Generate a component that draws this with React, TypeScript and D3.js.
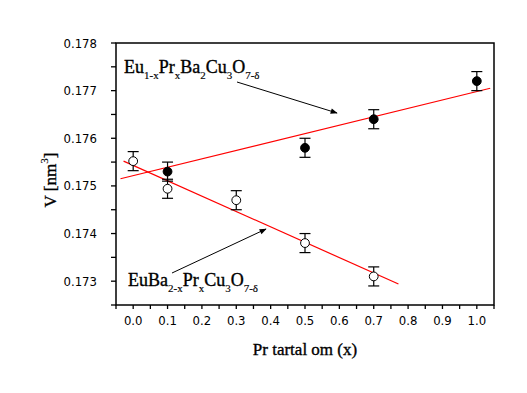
import React, { useEffect, useRef } from 'react';
import * as d3 from 'd3';

// Eu(1-x)Pr(x)Ba2Cu3O(7-d) series (filled)
const filledX = [0.1, 0.5, 0.7, 1.0];
const filledV = [0.1753, 0.1758, 0.1764, 0.1772];
// EuBa(2-x)Pr(x)Cu3O(7-d) series (open)
const openX = [0.0, 0.1, 0.3, 0.5, 0.7];
const openV = [0.17552, 0.17494, 0.1747, 0.1738, 0.1731];
const errV = 0.0002;

// fitted lines as drawn (end points)
const fitFilledX = [-0.037, 1.039];
const fitFilledV = [0.17515, 0.17705];
const fitOpenX = [-0.028, 0.772];
const fitOpenV = [0.17552, 0.17294];

const xTickLabels = ['0.0', '0.1', '0.2', '0.3', '0.4', '0.5', '0.6', '0.7', '0.8', '0.9', '1.0'];
const yTickLabels = ['0.173', '0.174', '0.175', '0.176', '0.177', '0.178'];

const labelTop = [
  { t: 'Eu' }, { t: '1-x', sub: true }, { t: 'Pr' }, { t: 'x', sub: true },
  { t: 'Ba' }, { t: '2', sub: true }, { t: 'Cu' }, { t: '3', sub: true },
  { t: 'O' }, { t: '7-δ', sub: true },
];
const labelBottom = [
  { t: 'EuBa' }, { t: '2-x', sub: true }, { t: 'Pr' }, { t: 'x', sub: true },
  { t: 'Cu' }, { t: '3', sub: true }, { t: 'O' }, { t: '7-δ', sub: true },
];

function Chart() {
  const svgRef = useRef<SVGSVGElement>(null);

  useEffect(() => {
    const svg = d3.select(svgRef.current);
    svg.selectAll('*').remove();

    const width = 527;
    const height = 393;
    const left = 116, right = 494, top = 43, bottom = 305;
    const serif = '"Liberation Serif", "Times New Roman", serif';
    const narrow = '"Liberation Sans Narrow", "DejaVu Sans Condensed", sans-serif';

    svg.attr('width', width).attr('height', height);
    svg.append('rect').attr('width', width).attr('height', height).attr('fill', '#fff');

    const x = d3.scaleLinear().domain([-0.05, 1.05]).range([left, right]);
    const y = d3.scaleLinear().domain([0.1725, 0.178]).range([bottom, top]);

    // ticks
    const xt = d3.range(0, 23).map(i => -0.05 + i * 0.05);
    svg.append('g').selectAll('line').data(xt).enter().append('line')
      .attr('x1', d => x(d)).attr('x2', d => x(d))
      .attr('y1', bottom).attr('y2', bottom + 4)
      .attr('stroke', '#000').attr('stroke-width', 1.3);
    svg.append('g').selectAll('text').data(xTickLabels).enter().append('text')
      .attr('x', d => x(+d)).attr('y', 325)
      .attr('text-anchor', 'middle')
      .style('font-family', narrow).style('font-size', '13px')
      .text(d => d);

    const yt = d3.range(0, 12).map(i => 0.1725 + i * 0.0005);
    svg.append('g').selectAll('line').data(yt).enter().append('line')
      .attr('x1', left - 5).attr('x2', left)
      .attr('y1', d => y(d)).attr('y2', d => y(d))
      .attr('stroke', '#000').attr('stroke-width', 1.3);
    svg.append('g').selectAll('text').data(yTickLabels).enter().append('text')
      .attr('x', 97).attr('y', d => y(+d) + 4.5)
      .attr('text-anchor', 'end')
      .style('font-family', narrow).style('font-size', '13px')
      .text(d => d);

    // frame
    svg.append('rect')
      .attr('x', left).attr('y', top)
      .attr('width', right - left).attr('height', bottom - top)
      .attr('fill', 'none').attr('stroke', '#000').attr('stroke-width', 1.5);

    // fit lines
    const line = d3.line<[number, number]>().x(d => x(d[0])).y(d => y(d[1]));
    svg.append('path').datum(fitFilledX.map((d, i) => [d, fitFilledV[i]] as [number, number]))
      .attr('d', line).attr('fill', 'none').attr('stroke', '#ff0000').attr('stroke-width', 1.2);
    svg.append('path').datum(fitOpenX.map((d, i) => [d, fitOpenV[i]] as [number, number]))
      .attr('d', line).attr('fill', 'none').attr('stroke', '#ff0000').attr('stroke-width', 1.2);

    // error bars + markers
    const drawSeries = (xs: number[], vs: number[], filled: boolean) => {
      const g = svg.append('g');
      const pts = xs.map((d, i) => ({ x: d, v: vs[i] }));
      const eb = g.selectAll('g.eb').data(pts).enter().append('g').attr('class', 'eb')
        .attr('stroke', '#000').attr('stroke-width', 1.2);
      eb.append('line').attr('x1', d => x(d.x)).attr('x2', d => x(d.x))
        .attr('y1', d => y(d.v - errV)).attr('y2', d => y(d.v + errV));
      eb.append('line').attr('x1', d => x(d.x) - 5.5).attr('x2', d => x(d.x) + 5.5)
        .attr('y1', d => y(d.v + errV)).attr('y2', d => y(d.v + errV));
      eb.append('line').attr('x1', d => x(d.x) - 5.5).attr('x2', d => x(d.x) + 5.5)
        .attr('y1', d => y(d.v - errV)).attr('y2', d => y(d.v - errV));
      g.selectAll('circle').data(pts).enter().append('circle')
        .attr('cx', d => x(d.x)).attr('cy', d => y(d.v)).attr('r', 4.4)
        .attr('fill', filled ? '#000' : '#fff')
        .attr('stroke', '#000').attr('stroke-width', 1);
    };
    drawSeries(filledX, filledV, true);
    drawSeries(openX, openV, false);

    // annotation labels
    const chemLabel = (segs: { t: string; sub?: boolean }[], tx: number, ty: number) => {
      const t = svg.append('text').attr('x', tx).attr('y', ty)
        .style('font-family', serif).style('font-size', '18px')
        .attr('stroke', '#000').attr('stroke-width', 0.35);
      let down = false;
      segs.forEach(s => {
        const sp = t.append('tspan').text(s.t);
        if (s.sub) {
          sp.style('font-size', '11px').attr('stroke-width', 0.15);
          if (!down) sp.attr('dy', 6);
          down = true;
        } else if (down) {
          sp.attr('dy', -6);
          down = false;
        }
      });
    };
    chemLabel(labelTop, 124, 73);
    chemLabel(labelBottom, 128, 286);

    // arrows
    const defs = svg.append('defs');
    defs.append('marker').attr('id', 'ah')
      .attr('viewBox', '0 0 10 10').attr('refX', 9).attr('refY', 5)
      .attr('markerWidth', 9).attr('markerHeight', 7).attr('orient', 'auto')
      .attr('markerUnits', 'userSpaceOnUse')
      .append('path').attr('d', 'M0,1L10,5L0,9Z').attr('fill', '#000');
    svg.append('line').attr('x1', 237).attr('y1', 82).attr('x2', 337).attr('y2', 113)
      .attr('stroke', '#000').attr('stroke-width', 1).attr('marker-end', 'url(#ah)');
    svg.append('line').attr('x1', 172).attr('y1', 273).attr('x2', 266).attr('y2', 229)
      .attr('stroke', '#000').attr('stroke-width', 1).attr('marker-end', 'url(#ah)');

    // axis titles
    svg.append('text').attr('x', 305).attr('y', 355).attr('text-anchor', 'middle')
      .style('font-family', serif).style('font-size', '17px')
      .attr('stroke', '#000').attr('stroke-width', 0.35)
      .text('Pr tartal om (x)');
    const yl = svg.append('text')
      .attr('transform', 'translate(56,180) rotate(-90)')
      .attr('text-anchor', 'middle')
      .style('font-family', serif).style('font-size', '17px')
      .attr('stroke', '#000').attr('stroke-width', 0.35);
    yl.append('tspan').text('V [nm');
    yl.append('tspan').text('3').style('font-size', '11px').attr('stroke-width', 0.15).attr('dy', -8);
    yl.append('tspan').text(']').attr('dy', 8);
  }, []);

  return <svg ref={svgRef} style={{ position: 'absolute', left: 0, top: 0 }}></svg>;
}

export default function App() {
  return <Chart />;
}
